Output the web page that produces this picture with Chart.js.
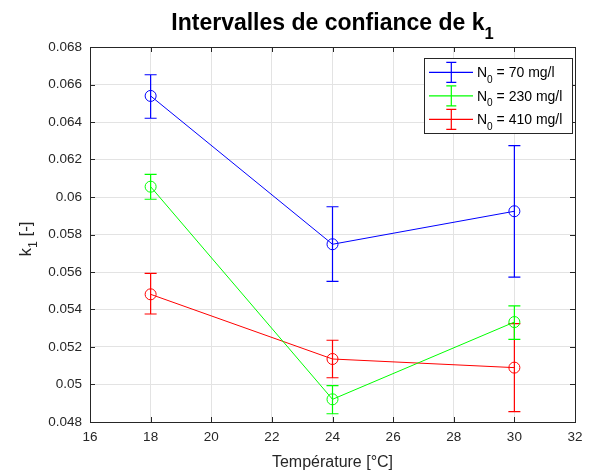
<!DOCTYPE html>
<html>
<head>
<meta charset="utf-8">
<script src="https://cdn.jsdelivr.net/npm/chart.js@4/dist/chart.umd.min.js"></script>
<style>
html, body { margin: 0; padding: 0; background: #fff; }
</style>
</head>
<body>
<canvas id="k1Chart" width="597" height="473"></canvas>
<script>
// data
const temperatures = [18, 24, 30];
const seriesLabels = ['N₀ = 70 mg/l', 'N₀ = 230 mg/l', 'N₀ = 410 mg/l'];
const seriesColors = ['#0000ff', '#00ff00', '#ff0000'];

const k1_70 = [0.06539, 0.05748, 0.05924];
const k1_70_low = [0.06420, 0.05550, 0.05573];
const k1_70_high = [0.06652, 0.05948, 0.06274];

const k1_230 = [0.06055, 0.04921, 0.05333];
const k1_230_low = [0.05988, 0.04844, 0.05241];
const k1_230_high = [0.06121, 0.04994, 0.05419];

const k1_410 = [0.05481, 0.05136, 0.05090];
const k1_410_low = [0.05376, 0.05036, 0.04855];
const k1_410_high = [0.05593, 0.05236, 0.05325];

const xTicksMin = 16, xTicksMax = 32, xStep = 2;
const yTicksMin = 0.048, yTicksMax = 0.068, yStep = 0.002;

const titleText = 'Intervalles de confiance de k₁';
const xTitle = 'Température [°C]';
const yTitle = 'k₁ [-]';

const values = [k1_70, k1_230, k1_410];
const lows = [k1_70_low, k1_230_low, k1_410_low];
const highs = [k1_70_high, k1_230_high, k1_410_high];

const FONT = '"Liberation Sans", Arial, Helvetica, sans-serif';
const AXIS = '#262626';
const SUBS = '₀₁₂₃₄₅₆₇₈₉';

// draws text, turning unicode subscript digits into small lowered digits
function drawRich(ctx, text, x, y, size, weight, align) {
    const runs = [];
    for (const ch of text) {
        const i = SUBS.indexOf(ch);
        const sub = i >= 0;
        const c = sub ? String(i) : ch;
        const last = runs[runs.length - 1];
        if (last && last.sub === sub) last.t += c;
        else runs.push({ t: c, sub: sub });
    }
    const font = s => `${weight} ${s}px ${FONT}`;
    let total = 0;
    runs.forEach(r => {
        ctx.font = font(r.sub ? size * 0.72 : size);
        r.w = ctx.measureText(r.t).width;
        total += r.w;
    });
    let cx = align === 'center' ? x - total / 2 : (align === 'right' ? x - total : x);
    ctx.textAlign = 'left';
    ctx.textBaseline = 'alphabetic';
    runs.forEach(r => {
        ctx.font = font(r.sub ? size * 0.72 : size);
        ctx.fillText(r.t, cx, r.sub ? y + size * 0.38 : y);
        cx += r.w;
    });
}

// error bar glyph: vertical line plus two caps
function drawBar(ctx, color, px, top, bot, half) {
    ctx.strokeStyle = color;
    ctx.lineWidth = 1.2;
    ctx.beginPath();
    ctx.moveTo(px, top); ctx.lineTo(px, bot);
    ctx.moveTo(px - half, top); ctx.lineTo(px + half, top);
    ctx.moveTo(px - half, bot); ctx.lineTo(px + half, bot);
    ctx.stroke();
}

const errorBars = {
    id: 'errorBars',
    afterDatasetDraw(chart, args) {
        const i = args.index;
        const ctx = chart.ctx;
        const xs = chart.scales.x, ys = chart.scales.y;
        ctx.save();
        temperatures.forEach((t, j) => {
            drawBar(ctx, seriesColors[i], xs.getPixelForValue(t),
                ys.getPixelForValue(highs[i][j]), ys.getPixelForValue(lows[i][j]), 6);
        });
        ctx.restore();
    }
};

const frame = {
    id: 'frame',
    beforeDatasetsDraw(chart) {
        const ctx = chart.ctx;
        const a = chart.chartArea;
        const xs = chart.scales.x, ys = chart.scales.y;
        const L = Math.round(a.left), R = Math.round(a.right), T = Math.round(a.top), B = Math.round(a.bottom);
        ctx.save();
        ctx.fillStyle = AXIS;
        xs.ticks.forEach(tk => {
            const px = Math.round(xs.getPixelForValue(tk.value));
            ctx.fillRect(px, B - 5, 1, 5);
            ctx.fillRect(px, T, 1, 5);
        });
        ys.ticks.forEach(tk => {
            const py = Math.round(ys.getPixelForValue(tk.value));
            ctx.fillRect(L, py, 5, 1);
            ctx.fillRect(R - 5, py, 5, 1);
        });
        ctx.fillRect(L, T, R - L + 1, 1);
        ctx.fillRect(L, B, R - L + 1, 1);
        ctx.fillRect(L, T, 1, B - T + 1);
        ctx.fillRect(R, T, 1, B - T + 1);
        ctx.restore();
    },
    afterDraw(chart) {
        const ctx = chart.ctx;
        const a = chart.chartArea;
        ctx.save();
        ctx.fillStyle = '#000';
        drawRich(ctx, titleText, (a.left + a.right) / 2, 30, 23, 'bold', 'center');
        ctx.fillStyle = AXIS;
        drawRich(ctx, xTitle, (a.left + a.right) / 2, 467, 16, 'normal', 'center');
        ctx.translate(31, 239);
        ctx.rotate(-Math.PI / 2);
        drawRich(ctx, yTitle, 0, 0, 17, 'normal', 'center');
        ctx.restore();

        // legend box, matlab style
        const lx = 424, ly = 58, lw = 148, lh = 75;
        ctx.save();
        ctx.fillStyle = '#fff';
        ctx.fillRect(lx, ly, lw, lh);
        ctx.fillStyle = AXIS;
        ctx.fillRect(lx, ly, lw + 1, 1);
        ctx.fillRect(lx, ly + lh, lw + 1, 1);
        ctx.fillRect(lx, ly, 1, lh + 1);
        ctx.fillRect(lx + lw, ly, 1, lh + 1);
        seriesLabels.forEach((lab, i) => {
            const cy = ly + 14.3 + i * 23.5;
            ctx.strokeStyle = seriesColors[i];
            ctx.lineWidth = 1.2;
            ctx.beginPath();
            ctx.moveTo(lx + 5, cy); ctx.lineTo(lx + 49, cy);
            ctx.stroke();
            drawBar(ctx, seriesColors[i], lx + 27.3, cy - 10, cy + 10, 5);
            ctx.fillStyle = '#000';
            drawRich(ctx, lab, lx + 53, cy + 5, 14, 'normal', 'left');
        });
        ctx.restore();
    }
};

const datasets = values.map((v, i) => ({
    label: seriesLabels[i],
    data: temperatures.map((t, j) => ({ x: t, y: v[j] })),
    borderColor: seriesColors[i],
    borderWidth: 1,
    pointRadius: 5.5,
    pointStyle: 'circle',
    pointBorderColor: seriesColors[i],
    pointBackgroundColor: 'rgba(0,0,0,0)',
    pointBorderWidth: 1,
    tension: 0,
    fill: false
}));

new Chart(document.getElementById('k1Chart'), {
    type: 'line',
    data: { datasets: datasets },
    plugins: [frame, errorBars],
    options: {
        responsive: false,
        animation: false,
        layout: { padding: { top: 47, right: 22, left: 0, bottom: 0 } },
        plugins: {
            legend: { display: false },
            tooltip: { enabled: false },
            title: { display: false }
        },
        scales: {
            x: {
                type: 'linear',
                min: xTicksMin, max: xTicksMax,
                ticks: { stepSize: xStep, color: AXIS, font: { size: 13.5, family: FONT }, padding: 7, maxRotation: 0 },
                grid: { color: '#e3e3e3', drawTicks: false },
                border: { display: false },
                afterFit(s) { s.height = 51; }
            },
            y: {
                min: yTicksMin, max: yTicksMax,
                ticks: {
                    stepSize: yStep, color: AXIS, font: { size: 13.5, family: FONT }, padding: 8,
                    callback: v => String(parseFloat(v.toFixed(4)))
                },
                grid: { color: '#e3e3e3', drawTicks: false },
                border: { display: false },
                afterFit(s) { s.width = 90; }
            }
        }
    }
});
</script>
</body>
</html>
